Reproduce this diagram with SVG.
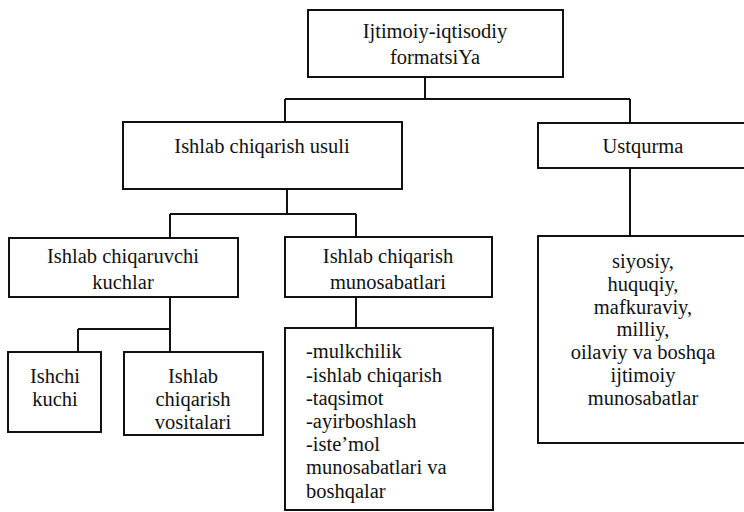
<svg xmlns="http://www.w3.org/2000/svg" width="744" height="512" viewBox="0 0 744 512" font-family="'Liberation Serif', 'Times New Roman', serif" font-size="20.5">
<style>
.box{fill:#fff;stroke:#111;stroke-width:2}
.ln{stroke:#111;stroke-width:2;fill:none}
text{fill:#111}
.c{text-anchor:middle}
</style>
<rect width="744" height="512" fill="#fff"/>
<g id="connectors">
<path class="ln" d="M425 77V99M285 99H630M285 99V122M630 99V123M630 168V236M287 189V214M170 214H356M170 214V238M356 214V237M170 297V329M78 329H170M78 329V352M170 329V352M356 297V328"/>
</g>
<g id="n-formatsiya">
<rect class="box" x="308" y="10" width="255" height="67"/>
<text class="c" x="435" y="38">Ijtimoiy-iqtisodiy</text>
<text class="c" x="435" y="64">formatsiYa</text>
</g>
<g id="n-usul">
<rect class="box" x="123" y="122" width="279" height="67"/>
<text class="c" x="262" y="153">Ishlab chiqarish usuli</text>
</g>
<g id="n-ustqurma">
<rect class="box" x="538" y="123" width="212" height="45"/>
<text class="c" x="643" y="153">Ustqurma</text>
</g>
<g id="n-kuchlar">
<rect class="box" x="9" y="238" width="229" height="59"/>
<text class="c" x="123" y="263">Ishlab chiqaruvchi</text>
<text class="c" x="123" y="289">kuchlar</text>
</g>
<g id="n-munosabatlar">
<rect class="box" x="285" y="237" width="207" height="60"/>
<text class="c" x="388" y="263">Ishlab chiqarish</text>
<text class="c" x="388" y="289">munosabatlari</text>
</g>
<g id="n-siyosiy">
<rect class="box" x="538" y="236" width="212" height="207"/>
<text class="c" x="643" y="268">siyosiy,</text>
<text class="c" x="643" y="291">huquqiy,</text>
<text class="c" x="643" y="314">mafkuraviy,</text>
<text class="c" x="643" y="336">milliy,</text>
<text class="c" x="643" y="359">oilaviy va boshqa</text>
<text class="c" x="643" y="382">ijtimoiy</text>
<text class="c" x="643" y="405">munosabatlar</text>
</g>
<g id="n-ishchi">
<rect class="box" x="8" y="352" width="93" height="80"/>
<text class="c" x="55" y="383">Ishchi</text>
<text class="c" x="55" y="406">kuchi</text>
</g>
<g id="n-vositalar">
<rect class="box" x="124" y="352" width="139" height="83"/>
<text class="c" x="193" y="383">Ishlab</text>
<text class="c" x="193" y="406">chiqarish</text>
<text class="c" x="193" y="429">vositalari</text>
</g>
<g id="n-mulkchilik">
<rect class="box" x="285" y="328" width="208" height="182"/>
<text x="306" y="358">-mulkchilik</text>
<text x="306" y="382">-ishlab chiqarish</text>
<text x="306" y="405">-taqsimot</text>
<text x="306" y="428">-ayirboshlash</text>
<text x="306" y="451">-iste’mol</text>
<text x="306" y="474">munosabatlari va</text>
<text x="306" y="498">boshqalar</text>
</g>
</svg>
